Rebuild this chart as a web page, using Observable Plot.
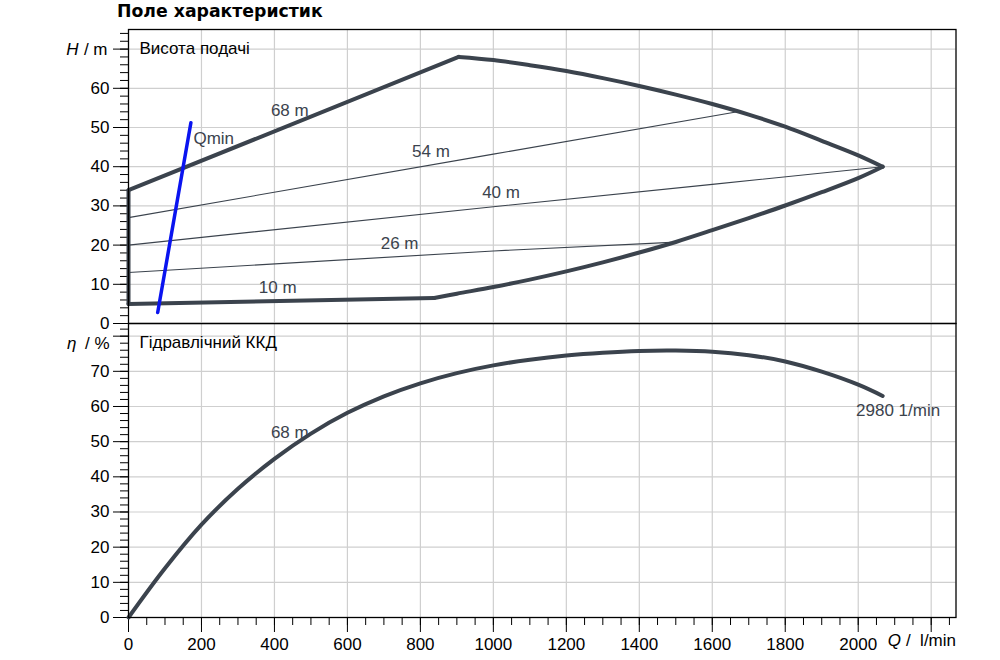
<!DOCTYPE html>
<html><head><meta charset="utf-8">
<script src="https://cdn.jsdelivr.net/npm/d3@7"></script>
<script src="https://cdn.jsdelivr.net/npm/@observablehq/plot@0.6"></script>
<style>
body{margin:0;background:#fff;font-family:"Liberation Sans",Arial,sans-serif;}
#wrap{position:relative;width:1000px;height:660px;overflow:hidden;}
#title{position:absolute;left:117px;top:1px;font-family:"DejaVu Sans",Verdana,sans-serif;font-weight:bold;font-size:17.3px;color:#000;}
#top,#bot{position:absolute;left:0;}
#top{top:0;} #bot{top:323px;}
</style></head><body>
<div id="wrap"><div id="bot"></div><div id="top"></div><div id="title">Поле характеристик</div></div>
<script>
// ---- Data (Q in l/min, H in m, eta in %) ----
const qLeftEdge = [0, 0];
const hLeftEdge = [5, 34];
const qRise = [0, 905];
const hRise = [34, 68];
const qFall = [905, 1000, 1100, 1200, 1300, 1400, 1500, 1600, 1700, 1800, 1900, 2000, 2067];
const hFall = [68, 67.2, 65.9, 64.4, 62.6, 60.6, 58.4, 56.0, 53.3, 50.2, 46.6, 42.9, 40];
const qLowFlat = [0, 838];
const hLowFlat = [5, 6.5];
const qLowCurve = [838, 900, 1000, 1100, 1200, 1300, 1400, 1500, 1600, 1700, 1800, 1900, 2000, 2067];
const hLowCurve = [6.5, 7.6, 9.3, 11.2, 13.3, 15.6, 18.1, 20.8, 23.8, 26.9, 30.1, 33.5, 37.1, 40];
const q54 = [0, 1000, 1669];
const h54 = [27, 43.2, 54.0];
const q40 = [0, 1000, 1600, 2067];
const h40 = [20, 29.8, 35.5, 40];
const q26 = [0, 1000, 1487];
const h26 = [13, 18.5, 20.7];
const qMin = [80, 171];
const hMin = [2.8, 51.2];
const qEta = [0, 100, 200, 300, 400, 500, 600, 700, 800, 900, 1000, 1100, 1200, 1300, 1400, 1500, 1600, 1700, 1800, 1900, 2000, 2067];
const eta = [0, 14.0, 26.4, 36.6, 45.1, 52.3, 58.2, 62.9, 66.6, 69.5, 71.7, 73.3, 74.5, 75.3, 75.8, 75.9, 75.6, 74.6, 72.8, 69.9, 66.2, 63.0];
const topLabels = ["68 m", "54 m", "40 m", "26 m", "10 m"];
const topLabelQ = [442, 829, 1021, 743, 409];
const topLabelH = [54.3, 43.8, 33.3, 20.3, 9.1];
const qminLabel = "Qmin"; const qminLabelQ = 178; const qminLabelH = 47.3;
const etaLabels = ["68 m"]; const etaLabelQ = [442]; const etaLabelV = [52.6];
const speedLabel = "2980 1/min"; const speedLabelQ = 1994; const speedLabelV = 58.8;
const qMajor = d3.range(0, 2201, 200);
const qMinor = d3.range(0, 2251, 50);
const hMajor = d3.range(0, 71, 10);
const hMinor = d3.range(0, 75, 2);
const eMajor = d3.range(0, 81, 10);
const eMinor = d3.range(0, 83, 2);

// ---- Style ----
const FONT = "'Liberation Sans', Arial, sans-serif";
const CURVE = "#3b434d";
const GRID = "#cfcfcf";
const FS = 17;

const zip = (name, xs, ys) => xs.map((x, i) => ({s: name, x, y: ys[i]}));
const thick = [
  ...zip("edge", qLeftEdge, hLeftEdge),
  ...zip("rise", qRise, hRise),
  ...zip("fall", qFall, hFall),
  ...zip("lowflat", qLowFlat, hLowFlat),
  ...zip("lowcurve", qLowCurve, hLowCurve)
];
const thin = [...zip("54", q54, h54), ...zip("40", q40, h40), ...zip("26", q26, h26)];
const qmin = zip("qmin", qMin, hMin);
const tl = topLabels.map((t, i) => ({t, x: topLabelQ[i], y: topLabelH[i]}));
const xDomain = [0, 2268];

const topPlot = Plot.plot({
  width: 1000, height: 323,
  marginLeft: 128, marginRight: 44.5, marginTop: 29, marginBottom: 0,
  style: {background: "transparent", overflow: "visible", fontFamily: FONT, fontSize: FS + "px", color: "#000"},
  x: {domain: xDomain, axis: null, label: null},
  y: {domain: [0, 75], label: null},
  marks: [
    Plot.gridX(qMajor.filter(d => d > 0), {stroke: GRID, strokeOpacity: 1, strokeWidth: 1.2}),
    Plot.gridY(hMajor.filter(d => d > 0), {stroke: GRID, strokeOpacity: 1, strokeWidth: 1.2}),
    Plot.axisY({ticks: hMinor, tickSize: 8, tickFormat: () => "", label: null}),
    Plot.axisY({ticks: hMajor, tickSize: 15, tickPadding: 4, tickFormat: d => d === 70 ? "" : String(d), fontSize: FS, label: null}),
    Plot.line(thin, {x: "x", y: "y", z: "s", stroke: CURVE, strokeWidth: 1.1}),
    Plot.line(thick, {x: "x", y: "y", z: "s", stroke: CURVE, strokeWidth: 4, curve: "catmull-rom", strokeLinejoin: "round"}),
    Plot.line(qmin, {x: "x", y: "y", stroke: "#0a14f0", strokeWidth: 3.5}),
    Plot.text(tl, {x: "x", y: "y", text: "t", fill: "#3b434d", fontSize: FS}),
    Plot.text([qminLabel], {x: qminLabelQ, y: qminLabelH, text: d => d, textAnchor: "start", fill: "#3b434d", fontSize: FS}),
    Plot.text(["Висота подачі"], {frameAnchor: "top-left", dx: 11, dy: 12, text: d => d, textAnchor: "start", fill: "#000", fontSize: FS}),
    Plot.text(["H"], {y: 70, frameAnchor: "left", dx: -50, text: d => d, textAnchor: "end", fontStyle: "italic", fill: "#000", fontSize: FS}),
    Plot.text(["/ m"], {y: 70, frameAnchor: "left", dx: -21, text: d => d, textAnchor: "end", fill: "#000", fontSize: FS}),
    Plot.frame({stroke: "#000", strokeWidth: 1.3})
  ]
});

const etaData = zip("eta", qEta, eta);
const botPlot = Plot.plot({
  width: 1000, height: 337,
  marginLeft: 128, marginRight: 44.5, marginTop: 0, marginBottom: 43,
  style: {background: "transparent", overflow: "visible", fontFamily: FONT, fontSize: FS + "px", color: "#000"},
  x: {domain: xDomain, label: null},
  y: {domain: [0, 83.6], label: null},
  marks: [
    Plot.gridX(qMajor.filter(d => d > 0), {stroke: GRID, strokeOpacity: 1, strokeWidth: 1.2}),
    Plot.gridY(eMajor.filter(d => d > 0), {stroke: GRID, strokeOpacity: 1, strokeWidth: 1.2}),
    Plot.axisY({ticks: eMinor, tickSize: 8, tickFormat: () => "", label: null}),
    Plot.axisY({ticks: eMajor, tickSize: 15, tickPadding: 4, tickFormat: d => d === 80 ? "" : String(d), fontSize: FS, label: null}),
    Plot.axisX({ticks: qMinor, tickSize: 8, tickFormat: () => "", label: null}),
    Plot.axisX({ticks: qMajor, tickSize: 15, tickPadding: 5, tickFormat: d => d === 2200 ? "" : String(d), fontSize: FS, label: null}),
    Plot.line(etaData, {x: "x", y: "y", stroke: CURVE, strokeWidth: 4, curve: "catmull-rom"}),
    Plot.text(etaLabels, {x: (d, i) => etaLabelQ[i], y: (d, i) => etaLabelV[i], text: d => d, fill: "#3b434d", fontSize: FS}),
    Plot.text([speedLabel], {x: speedLabelQ, y: speedLabelV, text: d => d, textAnchor: "start", fill: "#3b434d", fontSize: FS}),
    Plot.text(["Гідравлічний ККД"], {frameAnchor: "top-left", dx: 11, dy: 12, text: d => d, textAnchor: "start", fill: "#000", fontSize: FS}),
    Plot.text(["η"], {y: 78, frameAnchor: "left", dx: -52, text: d => d, textAnchor: "end", fontStyle: "italic", fill: "#000", fontSize: FS}),
    Plot.text(["/ %"], {y: 78, frameAnchor: "left", dx: -19, text: d => d, textAnchor: "end", fill: "#000", fontSize: FS}),
    Plot.text(["Q"], {frameAnchor: "bottom-right", dx: -55, dy: 28, text: d => d, textAnchor: "end", fontStyle: "italic", fill: "#000", fontSize: FS}),
    Plot.text(["/  l/min"], {frameAnchor: "bottom-right", dx: 0, dy: 28, text: d => d, textAnchor: "end", fill: "#000", fontSize: FS}),
    Plot.frame({stroke: "#000", strokeWidth: 1.3})
  ]
});

document.getElementById("bot").appendChild(botPlot);
document.getElementById("top").appendChild(topPlot);
</script>
</body></html>
